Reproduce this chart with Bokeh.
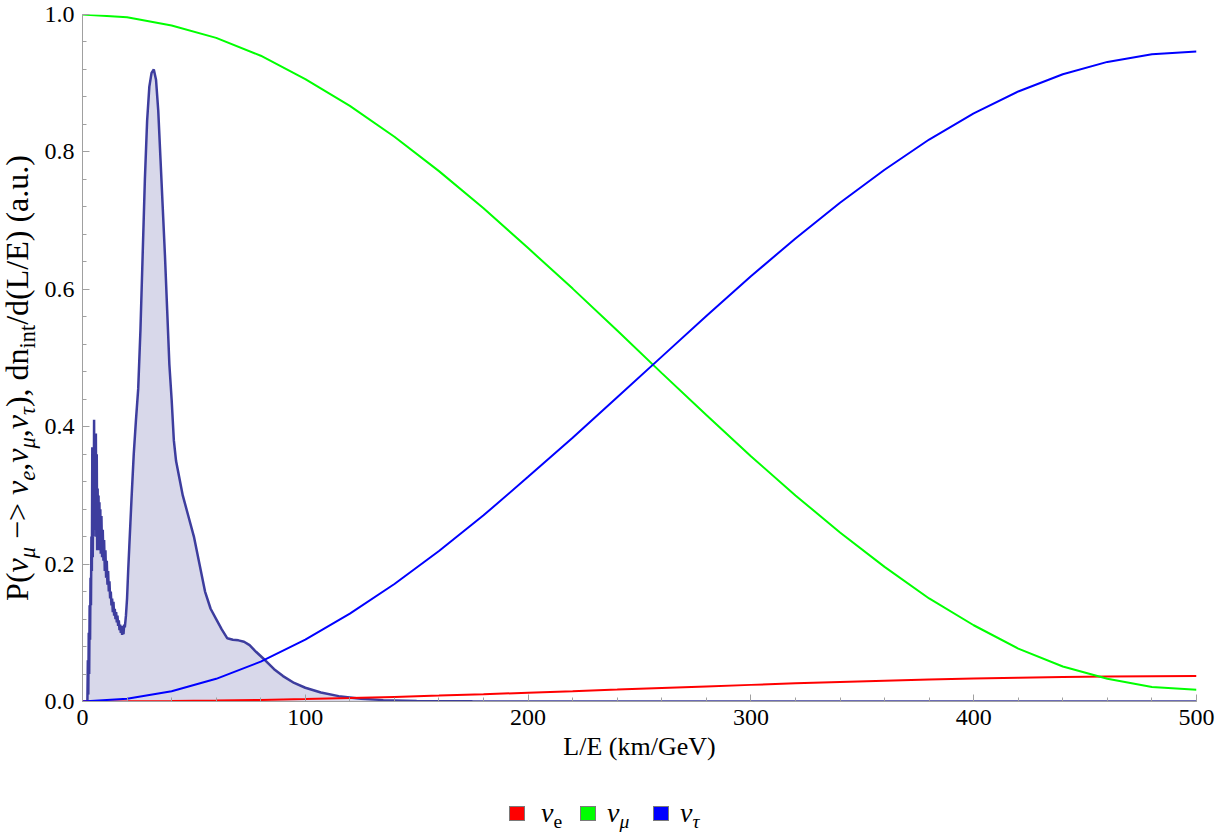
from bokeh.plotting import figure
from bokeh.models import Div, Range1d, FixedTicker, NumeralTickFormatter
from bokeh.layouts import row, column
from bokeh.embed import file_html
from bokeh.resources import INLINE

# ---------------- data ----------------
le = [0, 20, 40, 60, 80, 100, 120, 140, 160, 180, 200, 220, 240, 260, 280,
      300, 320, 340, 360, 380, 400, 420, 440, 460, 480, 500]
p_e = [0.0, 0.0002, 0.0006, 0.0013, 0.0023, 0.0035, 0.005, 0.0067, 0.0086,
       0.0106, 0.0128, 0.015, 0.0173, 0.0197, 0.022, 0.0242, 0.0264, 0.0284,
       0.0303, 0.032, 0.0335, 0.0347, 0.0357, 0.0364, 0.0368, 0.037]
p_mu = [1.0, 0.996, 0.984, 0.966, 0.940, 0.906, 0.867, 0.822, 0.772, 0.718,
        0.660, 0.601, 0.540, 0.478, 0.417, 0.357, 0.300, 0.246, 0.196, 0.150,
        0.111, 0.077, 0.051, 0.033, 0.021, 0.017]
p_tau = [0.0, 0.004, 0.015, 0.033, 0.058, 0.090, 0.128, 0.171, 0.219, 0.271,
         0.327, 0.384, 0.443, 0.502, 0.561, 0.619, 0.674, 0.726, 0.774, 0.818,
         0.856, 0.888, 0.913, 0.931, 0.942, 0.946]

flux_le = [0.0, 1.8, 2.2, 2.4, 2.6, 2.8, 3.0, 3.2, 3.4, 3.6, 3.8, 4.0, 4.2, 4.4,
           4.6, 4.8, 5.0, 5.2, 5.4, 5.6, 5.8, 6.0, 6.2, 6.4, 6.6, 6.8, 7.0, 7.2,
           7.4, 7.6, 7.8, 8.0, 8.2, 8.5, 8.8, 9.1, 9.4, 9.7, 10.0, 10.3, 10.6,
           10.9, 11.2, 11.5, 11.8, 12.1, 12.4, 12.7, 13.0, 13.3, 13.6, 13.9,
           14.2, 14.5, 14.8, 15.1, 15.4, 15.7, 16.0, 16.3, 16.6, 16.9, 17.2,
           17.5, 17.8, 18.1, 18.4, 18.7, 19.0, 19.5, 20.0, 20.5, 21.0, 21.5,
           22.0, 23.0, 24.0, 25.0, 26.0, 27.0, 28.0, 29.0, 30.0, 31.0, 32.0,
           33.0, 34.0, 35.0, 36.0, 37.0, 38.0, 39.0, 40.0, 41.0, 42.0, 43.5,
           45.0, 47.5, 50.0, 52.5, 55.0, 57.5, 60.0, 62.5, 65.0, 67.5, 70.0,
           72.5, 75.0, 78.0, 82.0, 86.0, 90.0, 95.0, 100.0, 107.0, 115.0,
           125.0, 135.0, 150.0, 175.0, 200.0, 500.0]
flux = [0.0, 0.0, 0.0, 0.06, 0.01, 0.10, 0.04, 0.14, 0.09, 0.18, 0.14, 0.24,
        0.19, 0.37, 0.21, 0.33, 0.24, 0.41, 0.25, 0.38, 0.27, 0.39, 0.24, 0.36,
        0.22, 0.31, 0.23, 0.30, 0.22, 0.29, 0.23, 0.28, 0.215, 0.27, 0.21,
        0.25, 0.205, 0.235, 0.19, 0.22, 0.18, 0.205, 0.17, 0.19, 0.16, 0.175,
        0.15, 0.16, 0.14, 0.15, 0.13, 0.145, 0.125, 0.135, 0.12, 0.13, 0.115,
        0.125, 0.11, 0.118, 0.104, 0.112, 0.10, 0.108, 0.097, 0.11, 0.098,
        0.112, 0.108, 0.125, 0.15, 0.19, 0.225, 0.26, 0.295, 0.36, 0.41,
        0.455, 0.54, 0.65, 0.76, 0.845, 0.895, 0.915, 0.92, 0.905, 0.86, 0.79,
        0.72, 0.65, 0.57, 0.49, 0.44, 0.38, 0.35, 0.325, 0.30, 0.27, 0.24,
        0.20, 0.16, 0.135, 0.12, 0.105, 0.092, 0.090, 0.089, 0.087, 0.082,
        0.072, 0.060, 0.047, 0.037, 0.027, 0.020, 0.013, 0.0078, 0.004, 0.002,
        0.0008, 0.0002, 0.0, 0.0]

x_ticks = [0, 100, 200, 300, 400, 500]
y_ticks = [0.0, 0.2, 0.4, 0.6, 0.8, 1.0]
x_label = "L/E (km/GeV)"

# ---------------- styling ----------------
FONT = "Liberation Serif"
AXIS_GRAY = "#a0a0a0"
FLUX_LINE = "#3d3d9e"
FLUX_FILL = "#d8d8ea"

LABEL_W = 40
FIG_W = 1183
FIG_H = 770
BOTTOM = 69

p = figure(width=FIG_W, height=FIG_H, output_backend="svg", toolbar_location=None,
           x_range=Range1d(0, 500), y_range=Range1d(0, 1.0),
           min_border_left=42, min_border_right=27, min_border_top=14,
           min_border_bottom=BOTTOM, margin=0)
p.xgrid.visible = False
p.ygrid.visible = False
p.outline_line_color = None
p.background_fill_color = "white"
p.border_fill_color = "white"

p.varea(x=flux_le, y1=0, y2=flux, fill_color=FLUX_FILL, fill_alpha=1.0)
p.line(flux_le, flux, line_color=FLUX_LINE, line_width=2.5)

p.line(le, p_e, line_color="#ff0000", line_width=2)
p.line(le, p_mu, line_color="#00ff00", line_width=2)
p.line(le, p_tau, line_color="#0000ff", line_width=2)

x_minor = [v for v in range(0, 501, 20)]
y_minor = [round(i * 0.04, 2) for i in range(0, 26)]
p.xaxis.ticker = FixedTicker(ticks=x_ticks, minor_ticks=x_minor)
p.yaxis.ticker = FixedTicker(ticks=y_ticks, minor_ticks=y_minor)
p.yaxis.formatter = NumeralTickFormatter(format="0.0")

for ax in (p.xaxis, p.yaxis):
    ax.axis_line_color = AXIS_GRAY
    ax.axis_line_width = 1
    ax.major_tick_line_color = AXIS_GRAY
    ax.minor_tick_line_color = AXIS_GRAY
    ax.major_tick_in = 7
    ax.major_tick_out = 0
    ax.minor_tick_in = 4
    ax.minor_tick_out = 0
    ax.major_label_text_font = FONT
    ax.major_label_text_font_size = "24px"
    ax.major_label_text_color = "black"
    ax.major_label_standoff = 8

p.xaxis.axis_label = x_label
p.xaxis.axis_label_text_font = FONT
p.xaxis.axis_label_text_font_size = "26px"
p.xaxis.axis_label_text_font_style = "normal"
p.xaxis.axis_label_text_color = "black"
p.xaxis.axis_label_standoff = 4

# y-axis label with proper sub-scripts (rotated HTML text)
sub = "<sub style=\"font-size:0.7em;vertical-align:-0.3em;\">"
ylab_html = (
    "P(<i>&#957;</i>" + sub + "<i>&#956;</i></sub> &#8722;&gt; "
    "<i>&#957;</i>" + sub + "<i>e</i></sub>,"
    "<i>&#957;</i>" + sub + "<i>&#956;</i></sub>,"
    "<i>&#957;</i>" + sub + "<i>&#964;</i></sub>), "
    "dn" + sub + "int</sub>/d(L/E) (a.u.)"
)
ylabel_div = Div(
    width=LABEL_W, height=FIG_H, margin=0,
    text=("<div style=\"position:relative;width:%dpx;height:%dpx;\">"
          "<div style=\"position:absolute;left:20px;top:378px;"
          "transform:translate(-50%%,-50%%) rotate(-90deg);white-space:nowrap;"
          "font-family:'Liberation Serif';font-size:32px;line-height:1;color:black;\">"
          "%s</div></div>") % (LABEL_W, FIG_H, ylab_html))

# legend (below)
items = [("#ff0000", "e", False), ("#00ff00", "&#956;", True), ("#0000ff", "&#964;", True)]
sq_left = [509, 580, 653]
txt_left = [541, 607, 680]
parts = []
for (col, s, ital), sl, tl in zip(items, sq_left, txt_left):
    parts.append("<div style=\"position:absolute;left:%dpx;top:36px;width:16px;height:15px;"
                 "background:%s;border:1px solid #7a7a7a;\"></div>" % (sl, col))
    s_html = "<i>%s</i>" % s if ital else s
    parts.append("<div style=\"position:absolute;left:%dpx;top:29px;white-space:nowrap;"
                 "font-family:'Liberation Serif';font-size:28px;line-height:1;color:black;\">"
                 "<i>&#957;</i>%s%s</sub></div>" % (tl, sub, s_html))
legend_div = Div(width=LABEL_W + FIG_W, height=56, margin=0,
                 text="<div style=\"position:relative;width:%dpx;height:56px;\">%s</div>"
                      % (LABEL_W + FIG_W, "".join(parts)))

layout = column(row(ylabel_div, p, margin=0), legend_div, margin=0)

with open("out.html", "w") as f:
    f.write(file_html(layout, INLINE))
